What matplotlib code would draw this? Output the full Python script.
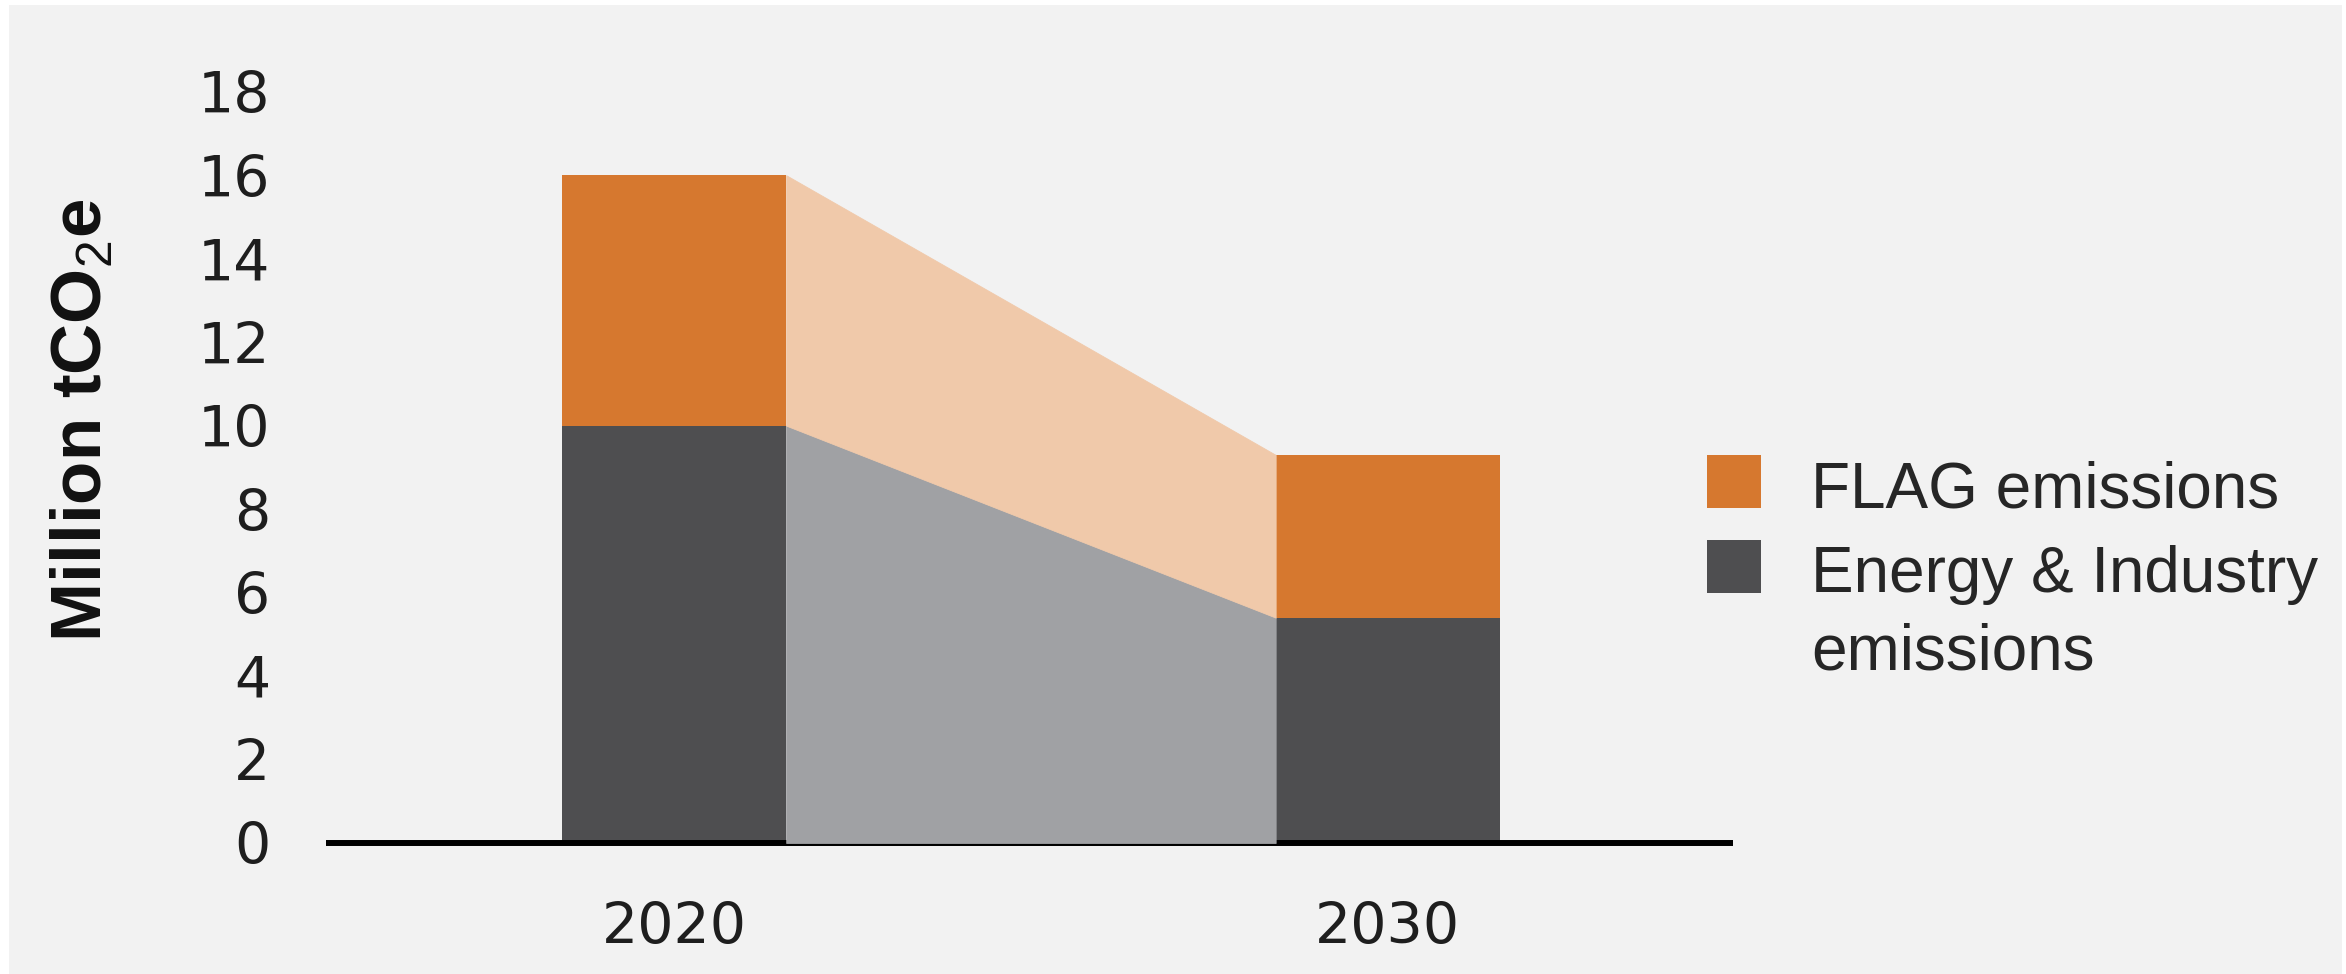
import matplotlib
matplotlib.use("Agg")
import matplotlib.pyplot as plt
import numpy as np
from matplotlib.patches import Rectangle

# data (Million tCO2e)
years = ["2020", "2030"]
energy_industry = [10.0, 5.4]
flag = [6.0, 3.9]
legend_labels = ["FLAG emissions", "Energy & Industry\nemissions"]

orange = "#d6782f"
light_orange = "#f0c9aa"
dark_grey = "#4e4e50"
mid_grey = "#a0a1a4"
bg = "#f2f2f2"

plt.rcParams["mathtext.fontset"] = "custom"
plt.rcParams["mathtext.rm"] = "Liberation Sans"
plt.rcParams["mathtext.it"] = "Liberation Sans:italic"
plt.rcParams["mathtext.bf"] = "Liberation Sans:bold"

W, H = 2346, 974
fig = plt.figure(figsize=(W / 100, H / 100), dpi=100, facecolor="white")
# grey panel with thin white border on left/top/right
fig.add_artist(Rectangle((9 / W, 0), (2342 - 9) / W, 1 - 5 / H,
                         transform=fig.transFigure, facecolor=bg, edgecolor="none", zorder=0))

ax = fig.add_axes((326 / W, 131 / H, 1407 / W, 793 / H))
ax.set_facecolor("none")

x = np.arange(len(years))
width = 0.314
total = np.array(energy_industry) + np.array(flag)

ax.bar(x, energy_industry, width, color=dark_grey, zorder=1)
ax.bar(x, flag, width, bottom=energy_industry, color=orange, zorder=1)

# connecting wedges between the bars
xs = [x[0] + width / 2, x[1] - width / 2]
ax.fill_between(xs, [0, 0], energy_industry, facecolor=mid_grey, edgecolor=mid_grey,
                linewidth=0.6, zorder=3)
ax.fill_between(xs, energy_industry, total, facecolor=light_orange, edgecolor=light_orange,
                linewidth=0.6, zorder=3)

ax.set_xlim(-0.488, 1.484)
ax.set_ylim(0, 19)
ax.set_xticks(x, years)
ax.set_yticks(np.arange(0, 19, 2))

for s in ["top", "right", "left"]:
    ax.spines[s].set_visible(False)
ax.spines["bottom"].set_linewidth(4.3)
ax.spines["bottom"].set_color("black")
ax.spines["bottom"].set_capstyle("butt")
ax.spines["bottom"].set_zorder(2)

ax.tick_params(axis="both", length=0, labelsize=41, labelcolor="#1e1e1e")
ax.tick_params(axis="y", pad=40)
ax.tick_params(axis="x", pad=42)

fig.text(84 / W, 1 - 420 / H, "Million tCO$_2$e", rotation=90, ha="center", va="center",
         fontsize=51, fontweight="bold", family="Liberation Sans", color="#111111")

# legend
leg_colors = [orange, dark_grey]
leg_tops = [455, 540]
for label, col, top in zip(legend_labels, leg_colors, leg_tops):
    fig.add_artist(Rectangle((1707 / W, 1 - (top + 53) / H), 54 / W, 53 / H,
                             transform=fig.transFigure, facecolor=col, edgecolor="none"))
    for i, line in enumerate(label.split("\n")):
        fig.text(1811 / W, 1 - (top + 52 + 77 * i) / H, line, ha="left", va="baseline",
                 fontsize=46, family="Liberation Sans", color="#262626")

fig.savefig("out.png", dpi=100, facecolor=fig.get_facecolor())
